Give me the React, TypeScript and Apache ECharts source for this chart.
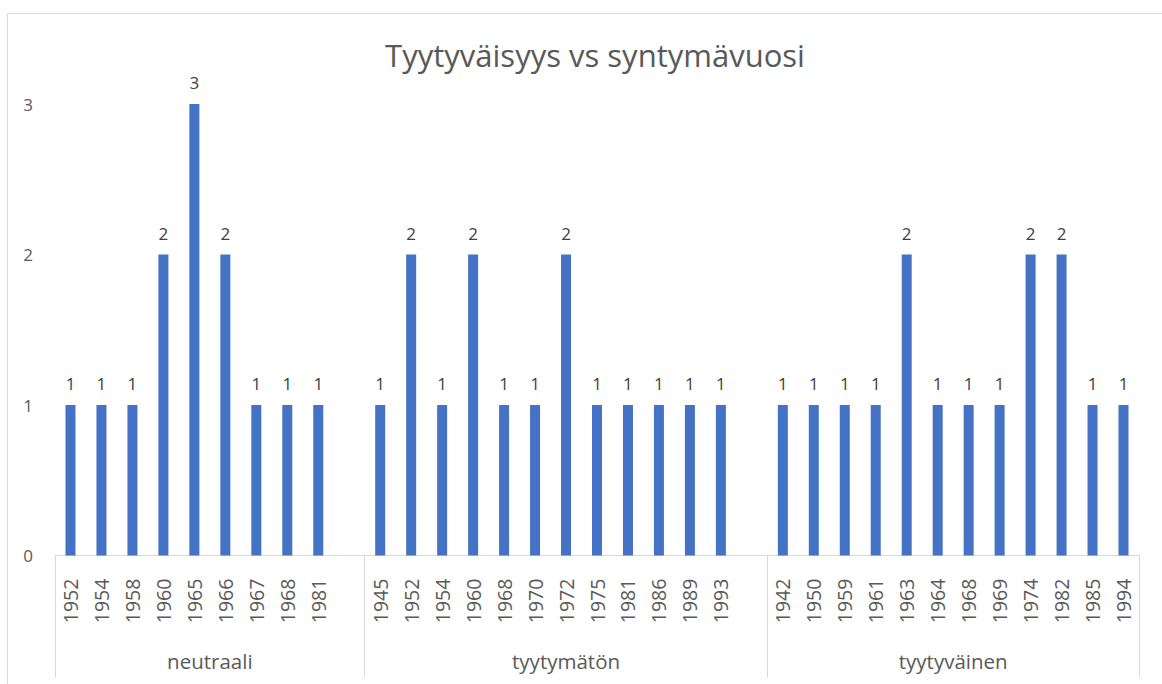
import React, { useEffect, useRef } from "react";
import * as echarts from "echarts";

const titleText = "Tyytyväisyys vs syntymävuosi";
const groupNames = ["neutraali", "tyytymätön", "tyytyväinen"];

const neutraaliYears = ["1952", "1954", "1958", "1960", "1965", "1966", "1967", "1968", "1981", ""];
const neutraaliCounts = [1, 1, 1, 2, 3, 2, 1, 1, 1, null];

const tyytymatonYears = ["1945", "1952", "1954", "1960", "1968", "1970", "1972", "1975", "1981", "1986", "1989", "1993", ""];
const tyytymatonCounts = [1, 2, 1, 2, 1, 1, 2, 1, 1, 1, 1, 1, null];

const tyytyvainenYears = ["1942", "1950", "1959", "1961", "1963", "1964", "1968", "1969", "1974", "1982", "1985", "1994"];
const tyytyvainenCounts = [1, 1, 1, 1, 2, 1, 1, 1, 2, 2, 1, 1];

const yTicks = [0, 1, 2, 3];

const groupYears = [neutraaliYears, tyytymatonYears, tyytyvainenYears];
const groupCounts = [neutraaliCounts, tyytymatonCounts, tyytyvainenCounts];

const FONT = "'Open Sans', 'Noto Sans', sans-serif";
const TEXT = "#595959";

export default function App() {
  const ref = useRef<HTMLDivElement>(null);

  useEffect(() => {
    if (!ref.current) return;
    const chart = echarts.init(ref.current, undefined, { renderer: "svg" });

    const categories: string[] = [];
    const values: (number | null)[] = [];
    groupYears.forEach((ys, g) => {
      ys.forEach((y, i) => {
        categories.push(y);
        values.push(groupCounts[g][i]);
      });
    });
    const total = categories.length;

    // half-slot point axis for group labels and separators
    const halfPoints: string[] = new Array(total * 2 + 1).fill("");
    const boundaries = new Set<number>();
    let start = 0;
    groupYears.forEach((ys, g) => {
      boundaries.add(start * 2);
      halfPoints[start * 2 + ys.length] = groupNames[g];
      start += ys.length;
    });
    boundaries.add(total * 2);

    chart.setOption({
      animation: false,
      backgroundColor: "#ffffff",
      title: {
        text: titleText,
        left: 590,
        top: 34,
        textAlign: "center",
        textStyle: { fontFamily: FONT, fontSize: 31, fontWeight: "normal", color: TEXT },
      },
      graphic: [
        {
          type: "rect",
          silent: true,
          z: -10,
          shape: { x: 7.5, y: 13.5, width: 1300, height: 800 },
          style: { fill: "none", stroke: "#d9d9d9", lineWidth: 1 },
        },
      ],
      grid: { left: 55, right: 23, top: 104, bottom: 128.4, containLabel: false },
      xAxis: [
        {
          type: "category",
          position: "bottom",
          data: categories,
          axisLine: { show: true, onZero: false, lineStyle: { color: "#d9d9d9", width: 1 } },
          axisTick: { show: false },
          axisLabel: {
            interval: 0,
            rotate: 90,
            margin: 23,
            color: TEXT,
            fontFamily: FONT,
            fontSize: 19.5,
          },
          splitLine: { show: false },
        },
        {
          type: "category",
          position: "bottom",
          boundaryGap: false,
          data: halfPoints,
          axisLine: { show: false, onZero: false },
          axisTick: {
            show: true,
            length: 122,
            interval: (i: number) => boundaries.has(i),
            lineStyle: { color: "#d9d9d9", width: 1 },
          },
          axisLabel: {
            interval: (_i: number, v: string) => v !== "",
            margin: 95,
            color: TEXT,
            fontFamily: FONT,
            fontSize: 20.5,
          },
          splitLine: { show: false },
        },
      ],
      yAxis: {
        type: "value",
        min: yTicks[0],
        max: yTicks[yTicks.length - 1],
        interval: 1,
        axisLine: { show: false },
        axisTick: { show: false },
        splitLine: { show: false },
        axisLabel: { margin: 22, color: TEXT, fontFamily: FONT, fontSize: 17 },
      },
      series: [
        {
          type: "bar",
          xAxisIndex: 0,
          data: values,
          barWidth: 10,
          itemStyle: { color: "#4472c4" },
          label: {
            show: true,
            position: "top",
            distance: 13,
            color: "#404040",
            fontFamily: FONT,
            fontSize: 17,
          },
        },
      ],
    });

    return () => chart.dispose();
  }, []);

  return (
    <div
      ref={ref}
      style={{ position: "absolute", left: 0, top: 0, width: 1162, height: 684 }}
    />
  );
}
